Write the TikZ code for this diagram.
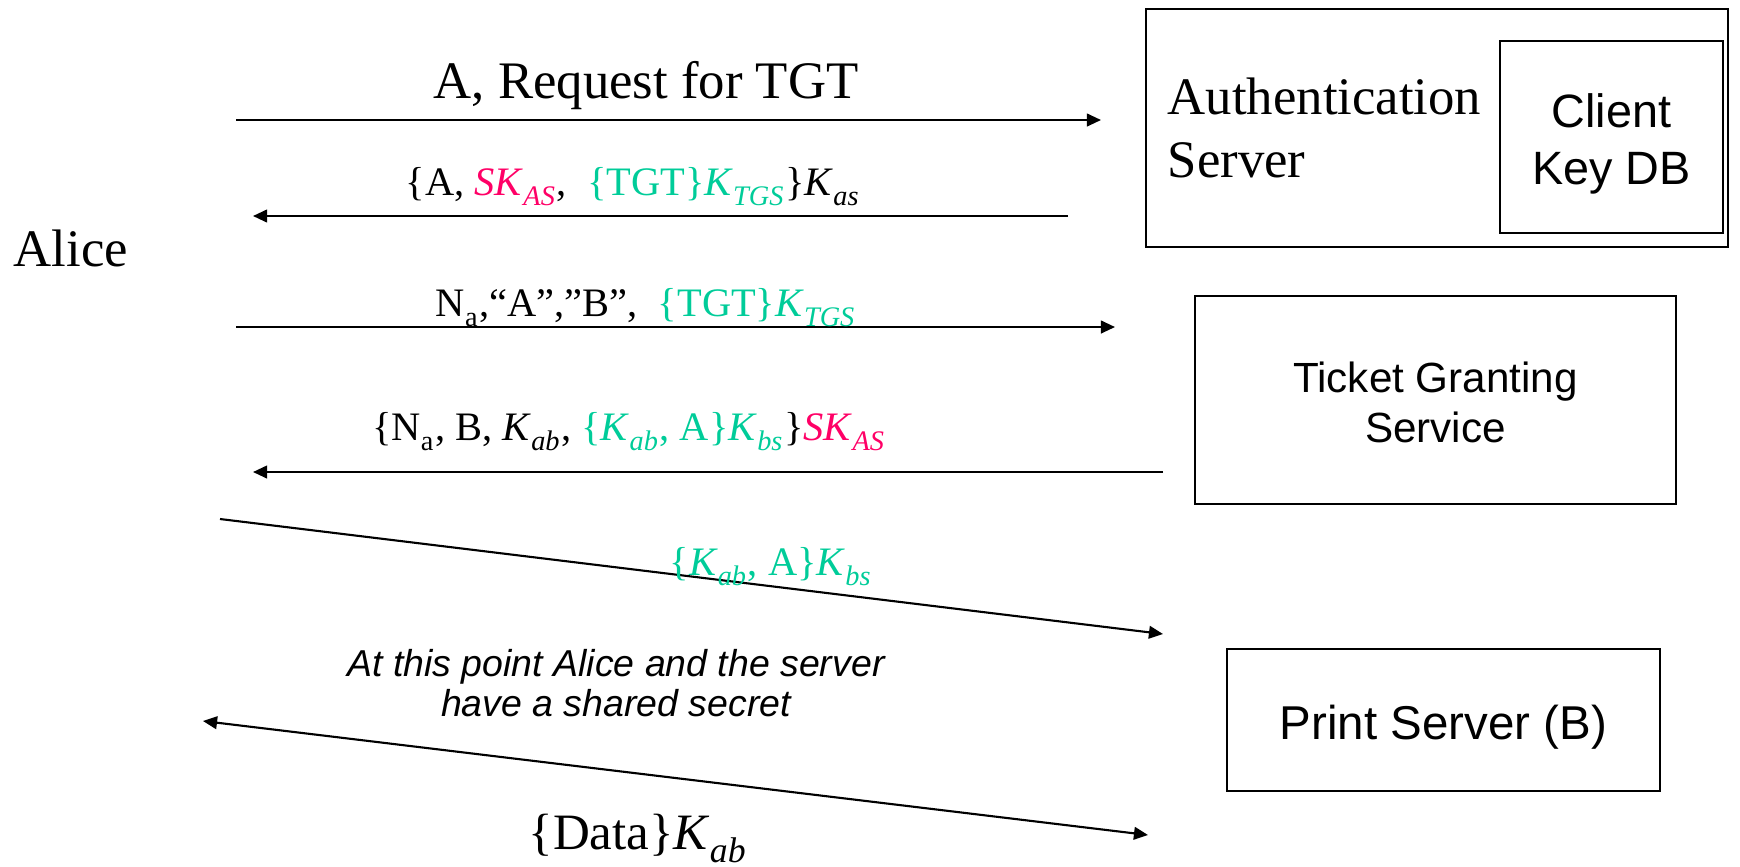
\documentclass[tikz,border=0pt]{standalone}
\usepackage{fontspec}
\setmainfont{Liberation Serif}
\setsansfont{Liberation Sans}
\usetikzlibrary{arrows.meta}
\definecolor{keypink}{RGB}{255,0,102}
\definecolor{keygreen}{RGB}{0,204,153}
% subscript set a little lower than the default
\newcommand\lsub[1]{\raisebox{-0.25ex}{\textsubscript{#1}}}
% italic key name with italic subscript
\newcommand\ky[2]{\textit{#1}\lsub{\textit{#2}}}
\begin{document}
\begin{tikzpicture}[x=0.01cm,y=-0.01cm,
  msg/.style={line width=0.6pt,-{Triangle[length=4pt,width=3.6pt]}},
  dmsg/.style={line width=0.6pt,{Triangle[length=4pt,width=3.6pt]}-{Triangle[length=4pt,width=3.6pt]}},
  box/.style={draw,line width=0.6pt,inner sep=0pt},
  big/.style={font=\fontsize{15}{18}\selectfont,inner sep=0pt},
  lbl/.style={font=\fontsize{11.5}{14}\selectfont,inner sep=0pt},
  sans/.style={font=\sffamily\fontsize{13.3}{16.3}\selectfont,align=center,inner sep=0pt}]
\useasboundingbox (0,0) rectangle (1740,866);

% servers
\node[box,minimum width=5.82cm,minimum height=2.38cm] (as) at (1437,128) {};
\node[box,minimum width=2.23cm,minimum height=1.92cm] (db) at (1611.5,137) {};
\node[sans] (dbtext) at ([yshift=-0.07cm]db.center) {Client\\Key DB};
\node[big,align=left,anchor=west] (astext) at (1167,128) {Authentication\\Server};
\node[box,minimum width=4.81cm,minimum height=2.08cm] (tgs) at (1435.5,400) {};
\node[sans,font=\sffamily\fontsize{12}{14.2}\selectfont] (tgstext) at ([yshift=-0.025cm]tgs.center) {Ticket Granting\\Service};
\node[box,minimum width=4.33cm,minimum height=1.42cm] (ps) at (1443.5,720) {};
\node[sans,font=\sffamily\fontsize{13.5}{16}\selectfont] (pstext) at ([yshift=-0.07cm]ps.center) {Print Server (B)};

% client
\node[big,anchor=base west] (alice) at (13,266) {Alice};

% message end points
\coordinate (m1a) at (236,120);  \coordinate (m1b) at (1101,120);
\coordinate (m2a) at (1068,216); \coordinate (m2b) at (253,216);
\coordinate (m3a) at (236,327);  \coordinate (m3b) at (1115,327);
\coordinate (m4a) at (1163,472); \coordinate (m4b) at (253,472);
\coordinate (m5a) at (220,519);  \coordinate (m5b) at (1163,634);
\coordinate (m6a) at (203,721);  \coordinate (m6b) at (1148,835);

\draw[msg] (m1a) -- (m1b);
\draw[msg] (m2a) -- (m2b);
\draw[msg] (m3a) -- (m3b);
\draw[msg] (m4a) -- (m4b);
\draw[msg] (m5a) -- (m5b);
\draw[dmsg] (m6a) -- (m6b);

% message contents
\node[big,anchor=base] (l1) at (646,98) {A, Request for TGT};
\node[lbl,anchor=base] (l2) at (633,195) {\{A, \textcolor{keypink}{\ky{SK}{AS}},\ \ \textcolor{keygreen}{\{TGT\}\ky{K}{TGS}}\}\ky{K}{as}};
\node[lbl,anchor=base] (l3) at (646,316) {N\lsub{a},“A”,”B”,\ \ \textcolor{keygreen}{\{TGT\}\ky{K}{TGS}}};
\node[lbl,anchor=base] (l4) at (629,440) {\{N\lsub{a}, B, \ky{K}{ab},\ \textcolor{keygreen}{\{\ky{K}{ab}, A\}\ky{K}{bs}}\}\textcolor{keypink}{\ky{SK}{AS}}};
\node[lbl,anchor=base] (l5) at (771,575) {\textcolor{keygreen}{\{\ky{K}{ab}, A\}\ky{K}{bs}}};
\node[sans,font=\sffamily\itshape\fontsize{10.65}{11.4}\selectfont] (note) at (616,683) {At this point Alice and the server\\have a shared secret};
\node[big,font=\fontsize{14.5}{17}\selectfont,anchor=base] (l6) at (638,849) {\{Data\}\ky{K}{ab}};
\end{tikzpicture}
\end{document}
